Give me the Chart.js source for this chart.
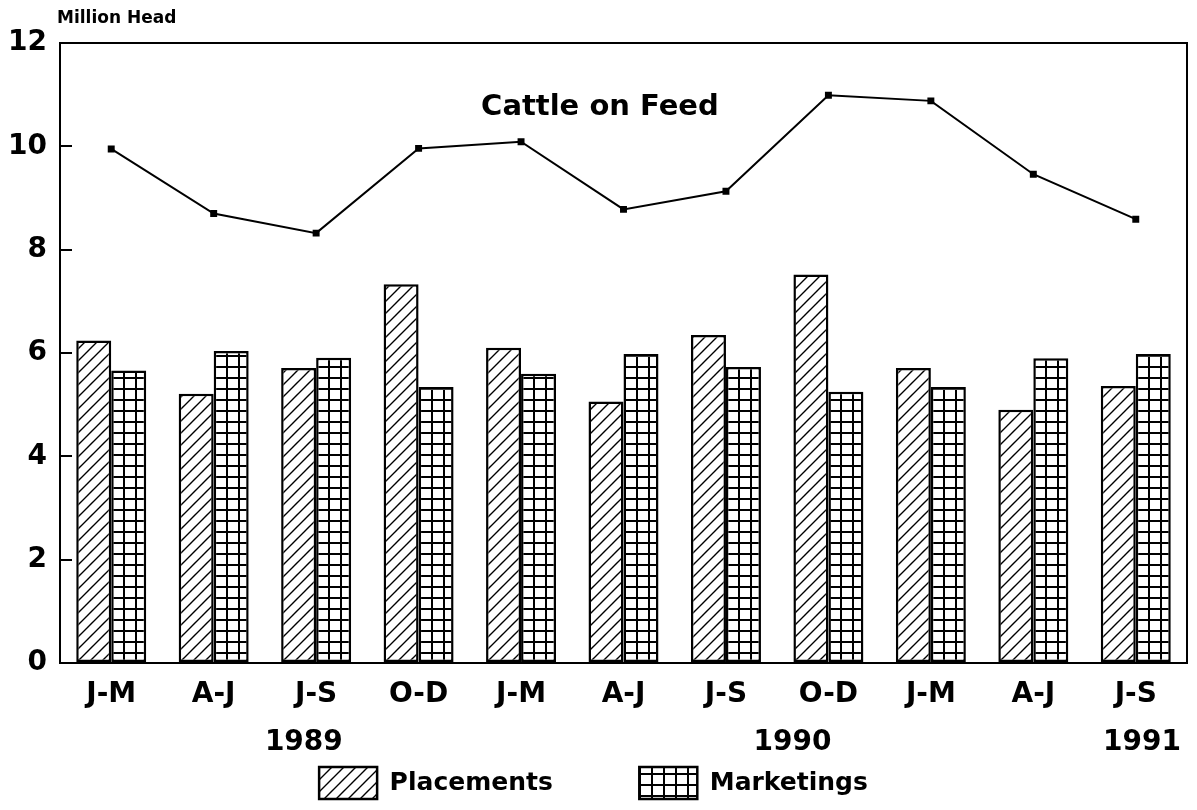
<!DOCTYPE html>
<html>
<head>
<meta charset="utf-8">
<script src="https://cdn.jsdelivr.net/npm/chart.js@4.4.1/dist/chart.umd.min.js"></script>
<style>
html,body{margin:0;padding:0;background:#fff;}
#wrap{width:1197px;height:810px;}
</style>
</head>
<body>
<div id="wrap"><canvas id="c" width="1197" height="810"></canvas></div>
<script>
// ---- data ----
const categories = ['J-M','A-J','J-S','O-D','J-M','A-J','J-S','O-D','J-M','A-J','J-S'];
const placements = [6.24, 5.21, 5.71, 7.33, 6.10, 5.06, 6.35, 7.52, 5.71, 4.90, 5.36];
const marketings = [5.66, 6.04, 5.91, 5.34, 5.60, 5.98, 5.73, 5.25, 5.34, 5.90, 5.98];
const cattleOnFeed = [9.95, 8.70, 8.32, 9.96, 10.09, 8.78, 9.13, 10.99, 10.88, 9.46, 8.59];
const yTicks = [0, 2, 4, 6, 8, 10, 12];
const years = ['1989', '1990', '1991'];
const seriesNames = ['Placements', 'Marketings', 'Cattle on Feed'];
const unitLabel = 'Million Head';

// ---- styling / layout ----
const FONT = "'DejaVu Sans', 'Liberation Sans', sans-serif";
Chart.defaults.font.family = FONT;
Chart.defaults.font.weight = 'bold';
Chart.defaults.color = '#000';
const CAT_PCT = 0.683;

function makeHatchTile() {
  const t = document.createElement('canvas');
  t.width = 12; t.height = 12;
  const g = t.getContext('2d');
  g.fillStyle = '#fff'; g.fillRect(0, 0, 12, 12);
  g.strokeStyle = '#000'; g.lineWidth = 1.4;
  g.beginPath();
  g.moveTo(-2, 14); g.lineTo(14, -2);
  g.moveTo(-2, 2); g.lineTo(2, -2);
  g.moveTo(10, 14); g.lineTo(14, 10);
  g.stroke();
  return t;
}
function makeGridTile() {
  const t = document.createElement('canvas');
  t.width = 12; t.height = 11;
  const g = t.getContext('2d');
  g.fillStyle = '#fff'; g.fillRect(0, 0, 12, 11);
  g.fillStyle = '#000';
  g.fillRect(0, 0, 2, 11);
  g.fillRect(0, 0, 12, 2);
  return t;
}
const hatchTile = makeHatchTile();
const gridTile = makeGridTile();

function barPattern(kind) {
  return (ctx) => {
    const chart = ctx.chart;
    const pat = chart.ctx.createPattern(kind === 'hatch' ? hatchTile : gridTile, 'repeat');
    if (ctx.type === 'data' && chart.scales && chart.scales.x && chart.chartArea) {
      const xs = chart.scales.x;
      const cx = xs.getPixelForValue(ctx.dataIndex);
      const bw = xs.width / categories.length * CAT_PCT / 2;
      const left = kind === 'hatch' ? cx - bw : cx;
      pat.setTransform(new DOMMatrix().translate(Math.round(left), Math.round(chart.chartArea.bottom)));
    }
    return pat;
  };
}

const framePlugin = {
  id: 'frame',
  afterDatasetsDraw(chart) {
    const {ctx, chartArea: a} = chart;
    ctx.save();
    ctx.strokeStyle = '#000';
    ctx.lineWidth = 2;
    ctx.beginPath();
    ctx.moveTo(a.left, a.top);
    ctx.lineTo(a.right, a.top);
    ctx.lineTo(a.right, a.bottom);
    ctx.stroke();
    ctx.restore();
  }
};

const textPlugin = {
  id: 'texts',
  afterDraw(chart, args, opts) {
    const {ctx, chartArea: a} = chart;
    const xs = chart.scales.x, ys = chart.scales.y;
    ctx.save();
    ctx.fillStyle = '#000';
    ctx.textBaseline = 'middle';
    ctx.font = 'bold 17px ' + FONT;
    ctx.textAlign = 'left';
    ctx.fillText(unitLabel, opts.unitX, opts.unitY);
    ctx.font = 'bold 29px ' + FONT;
    ctx.textAlign = 'center';
    ctx.fillText(seriesNames[2], xs.getPixelForValue(opts.lineLabelAt[0]), ys.getPixelForValue(opts.lineLabelAt[1]));
    ctx.font = 'bold 28px ' + FONT;
    years.forEach((yr, i) => {
      ctx.fillText(yr, xs.getPixelForValue(opts.yearAt[i]), a.bottom + opts.yearOffset);
    });
    ctx.restore();
  }
};

new Chart(document.getElementById('c'), {
  data: {
    labels: categories,
    datasets: [
      {
        type: 'bar', label: seriesNames[0], data: placements,
        backgroundColor: barPattern('hatch'), borderColor: '#000', borderWidth: 2.5,
        borderSkipped: false, categoryPercentage: CAT_PCT, barPercentage: 1, order: 2
      },
      {
        type: 'bar', label: seriesNames[1], data: marketings,
        backgroundColor: barPattern('grid'), borderColor: '#000', borderWidth: 2.5,
        borderSkipped: false, categoryPercentage: CAT_PCT, barPercentage: 1, order: 2
      },
      {
        type: 'line', label: seriesNames[2], data: cattleOnFeed,
        borderColor: '#000', borderWidth: 2, tension: 0,
        pointStyle: 'rect', pointRadius: 3.5, pointBackgroundColor: '#000', pointBorderColor: '#000',
        order: 0
      }
    ]
  },
  options: {
    responsive: false,
    animation: false,
    devicePixelRatio: 1,
    layout: {padding: {top: 43, right: 10, bottom: 1, left: 0}},
    scales: {
      x: {
        grid: {display: false},
        border: {display: true, color: '#000', width: 2},
        ticks: {color: '#000', font: {size: 28, weight: 'bold'}, padding: 7, maxRotation: 0, autoSkip: false},
        afterFit: (s) => { s.height = 96; }
      },
      y: {
        min: 0, max: 12,
        afterBuildTicks: (s) => { s.ticks = yTicks.map(v => ({value: v})); },
        ticks: {color: '#000', font: {size: 28, weight: 'bold'}, padding: 25},
        grid: {display: true, drawOnChartArea: false, drawTicks: true, tickLength: -12, color: '#000', lineWidth: 2},
        border: {display: true, color: '#000', width: 2},
        afterFit: (s) => { s.width = 60; }
      }
    },
    plugins: {
      legend: {
        position: 'bottom',
        labels: {
          generateLabels: (chart) => {
            const items = Chart.defaults.plugins.legend.labels.generateLabels(chart)
              .filter(i => i.datasetIndex !== 2);
            const spacer = {text: '', fillStyle: 'rgba(0,0,0,0)', strokeStyle: 'rgba(0,0,0,0)',
                            lineWidth: 0, hidden: false, datasetIndex: -1};
            return [items[0], spacer, items[1]];
          },
          boxWidth: 58, boxHeight: 32, padding: 8,
          color: '#000', font: {size: 25, weight: 'bold'}
        }
      },
      tooltip: {enabled: false},
      texts: {
        unitX: 57, unitY: 19,
        lineLabelAt: [4.77, 10.76],
        yearAt: [1.88, 6.65, 10.06],
        yearOffset: 80
      }
    }
  },
  plugins: [framePlugin, textPlugin]
});
</script>
</body>
</html>
